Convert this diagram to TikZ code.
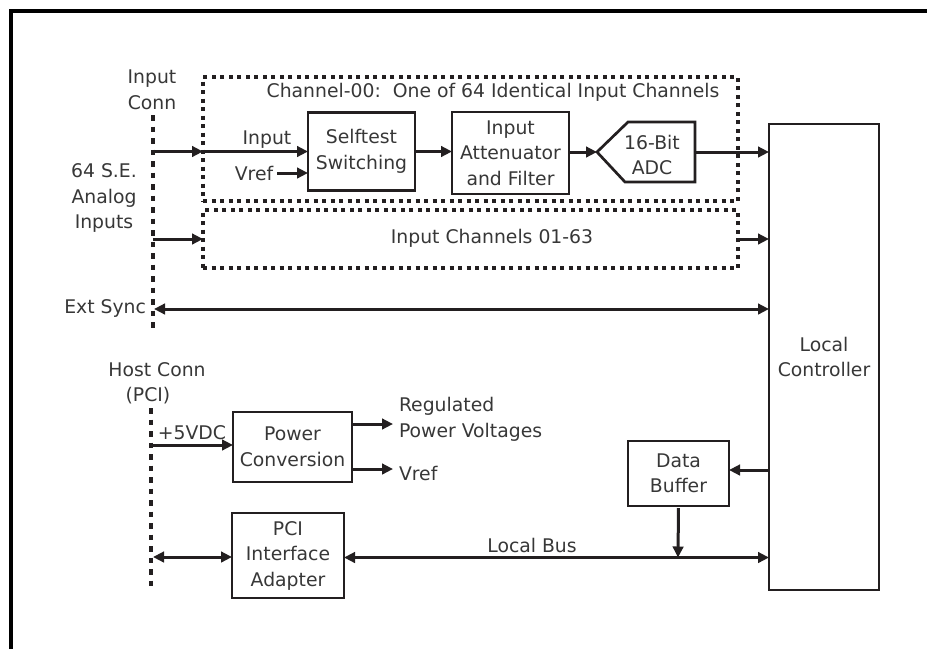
\documentclass[tikz,border=0pt]{standalone}
\usepackage{fontspec}
\setmainfont{DejaVu Sans}
\usetikzlibrary{arrows.meta}
\definecolor{ink}{RGB}{35,31,32}
\definecolor{txt}{RGB}{55,55,55}
\begin{document}
\begin{tikzpicture}[x=1pt,y=-1pt,
  every node/.style={inner sep=0pt, outer sep=0pt, text=txt, font=\fontsize{18.8}{25.5}\selectfont, align=center},
  blk/.style={draw=ink, line width=2.7pt, minimum width=#1},
  dotbox/.style={draw=ink, line width=3.4pt, dash pattern=on 4pt off 4.5pt},
  dotline/.style={draw=ink, line width=3.6pt, dash pattern=on 5.5pt off 6pt},
  arr/.style={draw=ink, line width=3pt, -{Triangle[length=11pt,width=10.5pt]}},
  darr/.style={draw=ink, line width=3pt, {Triangle[length=11pt,width=10.5pt]}-{Triangle[length=11pt,width=10.5pt]}}
]
\useasboundingbox (0,0) rectangle (928,649);
% frame
\draw[line width=4pt, black] (11,649) -- (11,11) -- (927,11);

% connector lines
\coordinate (ic1) at (153,115);
\coordinate (ic2) at (153,329);
\draw[dotline] (ic1) -- (ic2);
\coordinate (hc1) at (151,408);
\coordinate (hc2) at (151,591);
\draw[dotline] (hc1) -- (hc2);

% dotted channel boxes
\node[dotbox, minimum width=535pt, minimum height=124pt] (ch00) at (470.5,139) {};
\node at (493,92) {Channel-00:\ \ One of 64 Identical Input Channels};
\node[dotbox, minimum width=535pt, minimum height=58pt] (ch2) at (470.5,239) {};
\node at (492,238) {Input Channels 01-63};

% blocks
\node[blk=107pt, minimum height=78pt] (self) at (361.5,151.5) {Selftest\\Switching};
\node[blk=117pt, minimum height=82pt] (att) at (510.5,153) {Input\\Attenuator\\and Filter};
\node[minimum width=98pt, minimum height=60pt] (adc) at (646,152) {};
\draw[ink, line width=2.7pt, line join=miter] (adc.west) -- ([xshift=31pt]adc.north west) -- (adc.north east) -- (adc.south east) -- ([xshift=28pt]adc.south west) -- cycle;
\node at (652,155) {16-Bit\\ADC};
\node[blk=110pt, minimum height=466pt] (lc) at (824,357) {Local\\Controller};
\node[blk=119pt, minimum height=70pt] (pwr) at (292.5,447) {Power\\Conversion};
\node[blk=112pt, minimum height=85pt] (pci) at (288,555.5) {PCI\\Interface\\Adapter};
\node[blk=101pt, minimum height=65pt] (db) at (678.5,473.5) {Data\\Buffer};

% labels
\node at (152,90) {Input\\Conn};
\node at (104,198) {64 S.E.\\Analog\\Inputs};
\node[anchor=east] (es) at (146,308) {Ext Sync};
\node at (157,370) {Host Conn};
\node at (148,396) {(PCI)};
\node at (267,140) {Input};
\node (vrefin) at (254,173) {Vref};
\node at (192,433) {+5VDC};
\node[anchor=west] at (399,406) {Regulated};
\node[anchor=west] at (399,432) {Power Voltages};
\node[anchor=west] at (399,473) {Vref};
\node at (532,545) {Local Bus};

% connectors
\coordinate (in0) at (153,151.5);
\draw[arr] (in0) -- (ch00.west |- in0);
\draw[arr] (ch00.west |- in0) -- (self.west);
\draw[arr] ([xshift=4pt]vrefin.east) -- (self.west |- vrefin.east);
\draw[arr] (self.east) -- (att.west |- self.east);
\draw[arr] (att.east |- adc.west) -- (adc.west);
\draw[arr] (adc.east) -- (lc.west |- adc.east);
\coordinate (in1) at (153,239);
\draw[arr] (in1) -- (ch2.west);
\draw[arr] (ch2.east) -- (lc.west |- ch2.east);
\coordinate (es0) at (154,309);
\draw[darr] (es0) -- (lc.west |- es0);
\coordinate (p0) at (153,445);
\draw[arr] (p0) -- (pwr.west |- p0);
\coordinate (r1) at (393,424);
\coordinate (r2) at (393,469);
\draw[arr] (pwr.east |- r1) -- (r1);
\draw[arr] (pwr.east |- r2) -- (r2);
\coordinate (pc0) at (153,557);
\draw[darr] (pc0) -- (pci.west |- pc0);
\coordinate (bus) at (678,557.5);
\draw[darr] (pci.east |- bus) -- (lc.west |- bus);
\draw[arr] (lc.west |- 0,470) -- (db.east |- 0,470);
\draw[arr, shorten <=2pt] (db.south) -- (bus);
\end{tikzpicture}
\end{document}
